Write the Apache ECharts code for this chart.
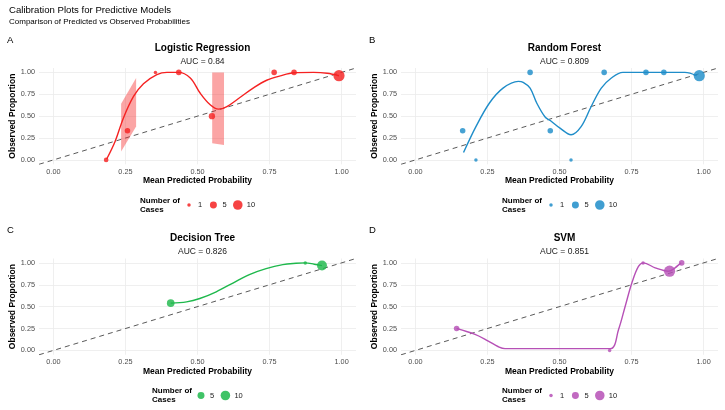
<!DOCTYPE html>
<html>
<head>
<meta charset="utf-8">
<script src="https://cdn.jsdelivr.net/npm/echarts@6/dist/echarts.min.js"></script>
<style>html,body{margin:0;padding:0;background:#fff}#c{width:725px;height:410px}</style>
</head>
<body>
<div id="c"></div>
<script>
// ---------- data ----------
const tickValues = [0, 0.25, 0.5, 0.75, 1];
const panelNames = ['Logistic Regression', 'Random Forest', 'Decision Tree', 'SVM'];
const panelLetters = ['A', 'B', 'C', 'D'];
const aucValues = ['0.84', '0.809', '0.826', '0.851'];
const panelColors = ['#F52222', '#1F8DC9', '#1EB84C', '#B650B6'];

// Logistic Regression
const lrX = [0.183, 0.257, 0.354, 0.435, 0.55, 0.766, 0.835, 0.991];
const lrY = [0, 0.333, 1, 1, 0.5, 1, 1, 0.962];
const lrN = [2, 3, 1, 3, 4, 3, 3, 14];
const lrCurveX = [0.185, 0.214, 0.243, 0.278, 0.3125, 0.359, 0.394, 0.434, 0.475, 0.509, 0.544, 0.573, 0.602, 0.646, 0.693, 0.74, 0.787, 0.835, 0.903, 0.95, 0.991];
const lrCurveY = [0.01, 0.21, 0.48, 0.725, 0.87, 0.974, 1.0, 1.0, 0.936, 0.764, 0.63, 0.58, 0.61, 0.71, 0.82, 0.91, 0.96, 0.995, 1.0, 0.99, 0.962];
const lrBandX0 = [0.235, 0.551];
const lrBandX1 = [0.287, 0.592];
const lrBandLo0 = [0.095, 0.19];
const lrBandHi0 = [0.641, 1.0];
const lrBandLo1 = [0.382, 0.17];
const lrBandHi1 = [0.935, 1.0];

// Random Forest
const rfX = [0.164, 0.21, 0.398, 0.468, 0.54, 0.655, 0.80, 0.862, 0.985];
const rfY = [0.333, 0, 1, 0.333, 0, 1, 1, 1, 0.962];
const rfN = [3, 1, 3, 3, 1, 3, 3, 3, 14];
const rfCurveX = [0.167, 0.21, 0.257, 0.304, 0.357, 0.374, 0.398, 0.421, 0.45, 0.468, 0.503, 0.54, 0.575, 0.61, 0.645, 0.68, 0.72, 0.83, 0.935, 0.976];
const rfCurveY = [0.084, 0.38, 0.65, 0.82, 0.897, 0.886, 0.82, 0.65, 0.49, 0.45, 0.36, 0.287, 0.38, 0.61, 0.82, 0.936, 1.0, 1.0, 1.0, 0.962];

// Decision Tree
const dtX = [0.407, 0.874, 0.932];
const dtY = [0.54, 1, 0.969];
const dtN = [6, 1, 11];
const dtCurveX = [0.407, 0.462, 0.508, 0.565, 0.623, 0.68, 0.738, 0.796, 0.842, 0.874, 0.905, 0.932];
const dtCurveY = [0.54, 0.555, 0.593, 0.67, 0.77, 0.867, 0.935, 0.98, 0.995, 1.0, 0.985, 0.969];

// SVM
const svX = [0.143, 0.674, 0.79, 0.882, 0.924];
const svY = [0.25, 0, 1, 0.905, 1];
const svN = [3, 1, 1, 14, 3];
const svCurveX = [0.143, 0.207, 0.253, 0.288, 0.311, 0.5, 0.676, 0.705, 0.728, 0.751, 0.774, 0.792, 0.832, 0.878, 0.901, 0.922];
const svCurveY = [0.25, 0.183, 0.106, 0.042, 0.02, 0.02, 0.02, 0.24, 0.505, 0.77, 0.96, 1.0, 0.943, 0.905, 0.943, 1.0];

const legendBreaks = [[1, 5, 10], [1, 5, 10], [5, 10], [1, 5, 10]];
const diagX = [-0.05, 1.05];

// ---------- build ----------
const FONT = 'Liberation Sans, Arial, sans-serif';
function sizeOf(n) { return 0.7 + 2.8 * Math.sqrt(n); }
function zip(a, b, c) { return a.map((v, i) => c ? [v, b[i], c[i]] : [v, b[i]]); }

const pointsData = [zip(lrX, lrY, lrN), zip(rfX, rfY, rfN), zip(dtX, dtY, dtN), zip(svX, svY, svN)];
const curveData = [zip(lrCurveX, lrCurveY), zip(rfCurveX, rfCurveY), zip(dtCurveX, dtCurveY), zip(svCurveX, svCurveY)];

const GL = [39, 401, 39, 401];
const GT = [68, 68, 258.5, 258.5];
const GW = 317, GH = 96.3;

const grids = [], xAxes = [], yAxes = [], series = [], titles = [], graphics = [];

titles.push({ text: 'Calibration Plots for Predictive Models', left: 4, top: 0,
  textStyle: { fontFamily: FONT, fontSize: 9.6, fontWeight: 'normal', color: '#000' } });
titles.push({ text: 'Comparison of Predicted vs Observed Probabilities', left: 4, top: 13,
  textStyle: { fontFamily: FONT, fontSize: 8, fontWeight: 'normal', color: '#000' } });

for (let p = 0; p < 4; p++) {
  const col = panelColors[p];
  grids.push({ left: GL[p], top: GT[p], width: GW, height: GH, containLabel: false });
  xAxes.push({
    gridIndex: p, type: 'value', min: -0.05, max: 1.05,
    name: 'Mean Predicted Probability', nameLocation: 'middle', nameGap: 12,
    nameTextStyle: { fontFamily: FONT, fontSize: 8.5, fontWeight: 'bold', color: '#000' },
    axisLine: { show: false },
    axisTick: { show: false, customValues: tickValues },
    axisLabel: { customValues: tickValues, margin: 4, fontFamily: FONT, fontSize: 7.3, color: '#4D4D4D',
      formatter: v => v.toFixed(2) },
    splitLine: { show: true, lineStyle: { color: '#EBEBEB', width: 0.8 } }
  });
  yAxes.push({
    gridIndex: p, type: 'value', min: -0.05, max: 1.05,
    name: 'Observed Proportion', nameLocation: 'middle', nameGap: 16,
    nameTextStyle: { fontFamily: FONT, fontSize: 8.5, fontWeight: 'bold', color: '#000' },
    axisLine: { show: false },
    axisTick: { show: false, customValues: tickValues },
    axisLabel: { customValues: tickValues, margin: 4, fontFamily: FONT, fontSize: 7.3, color: '#4D4D4D',
      formatter: v => v.toFixed(2) },
    splitLine: { show: true, lineStyle: { color: '#EBEBEB', width: 0.8 } }
  });

  const cx = GL[p] + GW / 2;
  titles.push({ text: panelLetters[p], left: GL[p] - 37, top: GT[p] - 38,
    textStyle: { fontFamily: FONT, fontSize: 9.5, fontWeight: 'normal', color: '#000' } });
  titles.push({ text: panelNames[p], left: cx, textAlign: 'center', top: GT[p] - 30,
    textStyle: { fontFamily: FONT, fontSize: 10, fontWeight: 'bold', color: '#000' } });
  titles.push({ text: 'AUC = ' + aucValues[p], left: cx, textAlign: 'center', top: GT[p] - 16,
    textStyle: { fontFamily: FONT, fontSize: 8.5, fontWeight: 'normal', color: '#1a1a1a' } });

  // diagonal reference
  series.push({ type: 'line', xAxisIndex: p, yAxisIndex: p, data: zip(diagX, diagX), symbol: 'none',
    silent: true, z: 2, lineStyle: { color: '#5A5A5A', width: 1, type: [5, 4] } });

  if (p === 0) {
    const bands = lrBandX0.map((x0, i) => [x0, lrBandX1[i], lrBandLo0[i], lrBandHi0[i], lrBandLo1[i], lrBandHi1[i]]);
    series.push({ type: 'custom', xAxisIndex: p, yAxisIndex: p, silent: true, z: 3,
      data: bands, encode: { x: [0, 1], y: [2, 3, 4, 5] },
      renderItem: function (params, api) {
        const x0 = api.value(0), x1 = api.value(1);
        const pts = [api.coord([x0, api.value(3)]), api.coord([x1, api.value(5)]),
                     api.coord([x1, api.value(4)]), api.coord([x0, api.value(2)])];
        return { type: 'polygon', shape: { points: pts }, style: { fill: 'rgba(245,40,40,0.42)' } };
      } });
  }

  series.push({ type: 'line', xAxisIndex: p, yAxisIndex: p, data: curveData[p], symbol: 'none',
    smooth: 0.35, silent: true, z: 4, lineStyle: { color: col, width: 1.4 } });

  series.push({ type: 'scatter', xAxisIndex: p, yAxisIndex: p, data: pointsData[p], z: 5,
    symbolSize: v => sizeOf(v[2]), itemStyle: { color: col, opacity: 0.82 } });

  // size legend
  const lx = GL[p] + (p === 2 ? 113 : 101);
  const ly = GT[p] + 133;
  graphics.push({ type: 'text', left: lx, top: ly - 5,
    style: { text: 'Number of\nCases', font: 'bold 8px ' + FONT, fill: '#000', lineHeight: 9 } });
  const br = legendBreaks[p];
  let x = lx + 49;
  br.forEach((b, i) => {
    graphics.push({ type: 'circle', shape: { cx: x, cy: ly + 4, r: sizeOf(b) / 2 },
      style: { fill: col, opacity: 0.85 } });
    graphics.push({ type: 'text', x: x + 9, y: ly + 4,
      style: { text: String(b), font: '7.5px ' + FONT, fill: '#1a1a1a', verticalAlign: 'middle', align: 'left' } });
    x += 24.4;
  });
}

const chart = echarts.init(document.getElementById('c'), null, { renderer: 'canvas' });
chart.setOption({
  backgroundColor: '#fff',
  animation: false,
  title: titles,
  grid: grids,
  xAxis: xAxes,
  yAxis: yAxes,
  series: series,
  graphic: graphics
});
</script>
</body>
</html>
